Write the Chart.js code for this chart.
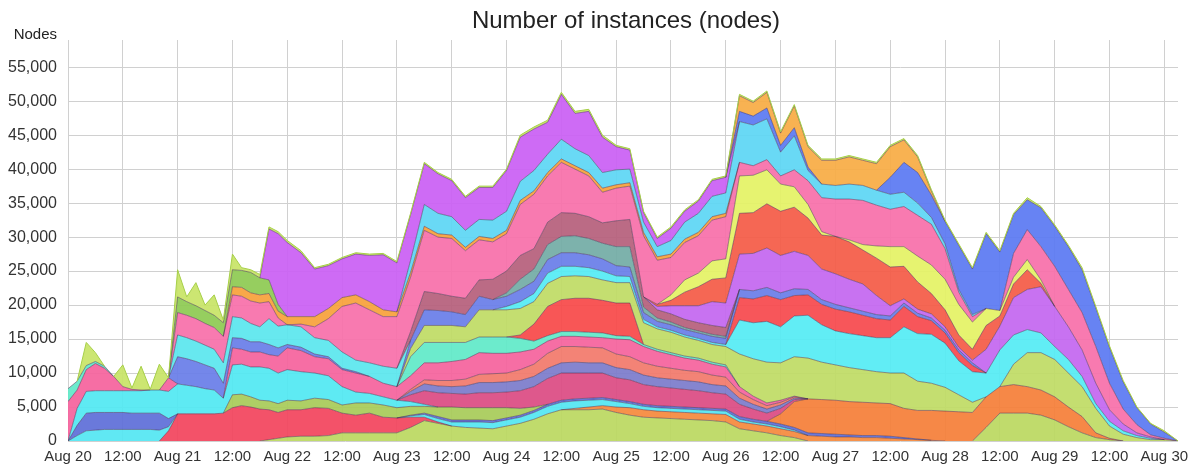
<!DOCTYPE html>
<html>
<head>
<meta charset="utf-8">
<script src="https://cdn.jsdelivr.net/npm/chart.js@4.4.1/dist/chart.umd.min.js"></script>
<style>
  html, body { margin: 0; padding: 0; background: #fff; }
  #wrap { width: 1199px; height: 467px; position: relative; }
</style>
</head>
<body>
<div id="wrap"><canvas id="grafico"></canvas></div>
<script>
// horas desde Aug 20 00:00
const hours = [0,2,4,6,8,10,12,14,16,18,
  20,22,24,26,28,30,32,34,36,38,
  40,42,44,46,48,51,54,57,60,63,
  66,69,72,75,78,81,84,87,90,93,
  96,99,102,105,108,111,114,117,120,123,
  126,129,132,135,138,141,144,147,150,153,
  156,159,162,165,168,171,174,177,180,183,
  186,189,192,195,198,201,204,207,210,213,
  216,219,222,225,228,231,234,237,240,243]

const tickLabels = ['Aug 20','12:00','Aug 21','12:00','Aug 22','12:00','Aug 23','12:00','Aug 24','12:00',
  'Aug 25','12:00','Aug 26','12:00','Aug 27','12:00','Aug 28','12:00','Aug 29','12:00','Aug 30']
const yTicks = [0,5000,10000,15000,20000,25000,30000,35000,40000,45000,50000,55000]

// nodos por serie (apiladas de abajo hacia arriba)
const lime1 = [0,0,0,0,0,0,0,0,0,0, 0,0,0,0,0,0,0,0,0,0, 0,0,200,400,600,700,700,800,1200,1200,
  1200,1200,1200,2000,3000,2600,2200,2000,1900,1800, 2200,2600,3200,4000,4600,4600,4600,4700,4200,3800,
  3500,3400,3300,3200,3100,3000,2800,1800,1500,1200, 800,500,0,0,0,0,0,0,0,0,
  0,0,0,0,0,2000,4100,4100,4100,3800, 3100,2100,1200,500,200,0,0,0,0,0]
const orange1 = [0,0,0,0,0,0,0,0,0,0, 0,0,0,0,0,0,0,0,0,0, 0,0,0,0,0,0,0,0,0,0,
  0,0,0,0,0,0,0,0,0,0, 0,0,0,0,0,200,400,500,800,1100,
  1100,1000,1000,1000,1000,1000,1100,1000,1000,1000, 1000,900,800,700,600,600,500,500,400,300,
  200,100,0,0,0,0,0,0,0,0, 0,0,0,0,0,0,0,0,0,0]
const red1 = [0,0,0,0,0,0,0,0,0,0, 0,1500,4000,4000,4000,4000,4000,4100,4900,5200,
  5000,4700,4400,3800,4000,3900,4200,4000,2900,2600, 2900,2300,2200,1500,500,200,0,0,0,0,
  0,0,0,0,0,0,0,0,0,0, 0,0,0,0,0,0,0,0,0,0, 0,0,0,0,0,0,0,0,0,0,
  0,0,0,0,0,0,0,0,0,0, 0,0,0,0,0,0,0,0,0,0]
const cyanLow = [0,800,1500,1600,1700,1700,1700,1700,1700,1700, 1600,600,0,0,0,0,0,0,0,0,
  0,0,0,0,0,0,0,0,0,0, 0,0,0,200,400,500,600,800,900,900,
  900,900,1000,1100,1100,1100,1000,900,800,600, 500,500,500,500,500,500,500,400,300,300,
  300,200,0,0,0,0,0,0,0,0, 0,0,0,0,0,0,0,0,0,0, 0,0,0,0,0,0,0,0,0,0]
const blueLow = [0,1500,2600,2600,2500,2500,2500,2400,2400,2400, 2500,1200,0,0,0,0,0,0,0,0,
  0,0,0,0,0,0,0,0,0,0, 0,0,0,100,200,300,300,300,300,300,
  300,300,300,300,300,300,300,300,300,300, 300,300,300,300,300,300,300,400,400,400,
  400,400,400,400,400,300,300,300,300,200, 100,0,0,0,0,0,0,0,0,0, 0,0,0,0,0,0,0,0,0,0]
const orangeBig = [0,0,0,0,0,0,0,0,0,0, 0,0,0,0,0,0,0,0,0,0, 0,0,0,0,0,0,0,0,0,0,
  0,0,0,0,0,0,0,0,0,0, 0,0,0,0,0,0,0,0,0,0, 0,0,0,0,0,0,0,0,0,0,
  1500,3800,5000,5000,5000,4900,4900,4800,4800,4300, 4200,4400,4400,4300,4200,4500,3900,4200,3900,3700,
  3400,2900,2400,700,200,0,0,0,0,0]
const olive = [0,0,0,0,0,0,0,0,0,0, 0,0,0,0,0,0,0,0,1900,1700,
  1500,1300,1300,1300,1400,1300,1400,1300,1200,1800, 1500,1800,1500,1300,1000,1400,1900,1800,1800,1900,
  1500,1000,500,0,0,0,0,0,0,0, 0,0,0,0,0,0,0,0,0,0, 0,0,0,0,0,0,0,0,0,0,
  0,0,0,0,0,0,0,0,0,0, 0,0,0,0,0,0,0,0,0,0]
const cyanMid = [0,2500,3200,3200,3200,3200,3200,3300,3300,3400, 3400,4000,4400,4200,4000,3700,3500,2200,4400,4400,
  4400,4900,4800,4500,4500,4300,3700,3500,2700,1600, 1400,1200,1100,700,300,0,0,0,0,0,
  0,0,0,0,0,0,0,0,0,0, 0,0,0,0,0,0,0,0,0,0, 0,0,0,0,0,0,0,0,0,0,
  0,0,0,0,0,0,0,0,0,0, 0,0,0,0,0,0,0,0,0,0]
const magenta = [0,0,0,0,0,0,0,0,0,0, 0,0,0,0,0,0,0,0,0,0, 0,0,0,0,0,0,0,0,0,0,
  0,0,0,1000,2000,2100,2000,2000,2200,2200, 2300,2600,3000,3800,4000,3800,3700,3600,3200,3200,
  2900,2800,2700,2600,2500,2300,2200,1800,1500,1200, 800,300,0,0,0,0,0,0,0,0,
  0,0,0,0,0,0,0,0,0,0, 0,0,0,0,0,0,0,0,0,0]
const slate = [0,0,0,0,0,0,0,0,0,0, 0,0,0,0,0,0,0,0,0,0, 0,0,0,0,0,0,0,0,0,0,
  0,0,0,500,1000,1000,1000,1200,1500,1500, 1500,1500,1500,1500,1500,1600,1500,1500,1500,1500,
  1400,1300,1300,1300,1300,1200,1200,900,700,600, 500,200,0,0,0,0,0,0,0,0,
  0,0,0,0,0,0,0,0,0,0, 0,0,0,0,0,0,0,0,0,0]
const coral = [0,0,0,0,0,0,0,0,0,0, 0,0,0,0,0,0,0,0,0,0, 0,0,0,0,0,0,0,0,0,0,
  0,0,0,300,600,800,900,1000,1200,1300, 1300,1600,1800,2200,2400,2300,2300,2200,2000,1900,
  1800,1700,1600,1500,1500,1400,1300,900,700,500, 400,200,0,0,0,0,0,0,0,0,
  0,0,0,0,0,0,0,0,0,0, 0,0,0,0,0,0,0,0,0,0]
const hotpink = [5800,2700,3200,4000,3300,2100,600,200,100,0, 0,2000,0,0,0,0,0,0,2500,2200,
  2200,2200,2000,2500,3200,3100,2400,2500,2500,2800, 2500,2000,2000,2000,2500,2600,2800,2900,3200,3000,
  2900,2600,2200,1800,1500,1500,1500,1500,2200,2500, 2400,2200,2000,1800,1700,1600,1500,800,500,400,
  300,100,0,0,0,0,0,0,0,0, 0,0,0,0,0,0,0,0,0,0, 0,0,0,0,0,0,0,0,0,0]
const mint = [1900,1300,600,300,300,0,0,0,0,0, 0,0,0,0,0,0,0,0,0,0, 0,0,0,0,0,0,0,0,0,0,
  0,0,0,2800,3000,3000,2800,2500,2300,2400, 2400,2000,1200,800,700,700,700,700,500,500,
  300,300,300,300,300,300,300,0,0,0, 0,0,0,0,0,0,0,0,0,0,
  0,0,0,0,0,0,0,0,0,0, 0,0,0,0,0,0,0,0,0,0]
const redBlock = [0,0,0,0,0,0,0,0,0,0, 0,0,0,0,0,0,0,0,0,0, 0,0,0,0,0,0,0,0,0,0,
  0,0,0,0,0,0,0,0,0,0, 0,500,2500,4300,4700,4900,5000,4800,4800,4900,
  0,0,0,0,0,0,0,0,0,0, 0,0,0,0,0,0,0,0,0,0, 0,0,0,0,0,0,0,0,0,0, 0,0,0,0,0,0,0,0,0,0]
const limeMid = [0,0,0,0,0,0,0,0,0,0, 0,0,0,0,0,0,0,0,0,0, 0,0,0,0,0,0,0,0,0,0,
  0,0,0,1200,2500,2500,2500,2300,4000,4000, 4000,3900,3300,3400,3400,3300,3200,3000,3000,3000,
  3200,3000,3000,2800,2600,2600,2700,4800,5500,6000, 5500,5800,6000,5500,5200,5000,4800,4600,4500,5200,
  4300,4000,3500,2500,1500,0,0,3000,5000,5500, 5500,5000,4400,3600,1800,1000,500,200,200,0]
const cyanBig = [0,0,0,0,0,0,0,0,0,0, 0,0,0,0,0,0,0,0,0,0, 0,0,0,0,0,0,0,0,0,0,
  0,0,0,0,0,0,0,0,0,0, 500,1000,1200,1500,1500,1400,1300,1300,1000,900,
  500,300,300,300,300,300,300,5000,5300,6000, 5300,6000,6300,5500,5000,5000,5000,5000,5200,6800,
  7000,7200,6500,5000,4500,3500,5400,4300,3400,2900, 1900,2000,1500,700,700,500,300,200,0,0]
const redBig = [0,0,0,0,0,0,0,0,0,0, 0,0,0,0,0,0,0,0,0,0, 0,0,0,0,0,0,0,0,0,0,
  0,0,0,0,0,0,0,0,0,0, 0,0,0,0,0,0,0,0,0,0, 0,0,0,0,0,0,0,3300,3500,3800,
  4000,3000,3000,3000,3200,3200,3000,2800,2600,3000, 2500,2000,1500,1200,900,0,0,0,0,0,
  0,0,0,0,0,0,0,0,0,0]
const blueMid = [0,0,0,0,0,0,0,0,0,0, 0,0,4000,3900,3700,3500,3200,2200,1500,1600,
  1500,1500,1500,1200,500,500,400,300,200,200, 0,0,0,1200,2300,2200,2000,1800,2000,1500,
  1500,1800,1800,2000,2000,2000,1900,1800,1500,1400, 1000,800,800,800,800,900,900,1200,1200,1200,
  1000,1000,800,700,700,600,600,600,600,500, 500,400,400,400,400,0,0,0,0,0, 0,0,0,0,0,0,0,0,0,0]
const cyan2 = [0,0,0,0,0,0,0,0,0,0, 0,0,3200,3100,3000,2900,2800,3000,3100,3000,
  2700,2200,3800,3200,2900,3000,2400,2400,2400,1700, 2000,2500,2700,0,0,0,0,0,0,0,
  0,0,0,0,0,0,0,0,0,0, 0,0,0,0,0,0,0,0,0,0, 0,0,0,0,0,0,0,0,0,0,
  0,0,0,0,0,0,0,0,0,0, 0,0,0,0,0,0,0,0,0,0]
const teal = [0,0,0,0,0,0,0,0,0,0, 0,0,0,0,0,0,0,0,0,0, 0,0,0,0,0,0,0,0,0,0,
  0,0,0,0,0,0,0,0,0,0, 500,1500,1800,2200,2400,2500,2400,2300,2800,3000,
  800,500,400,300,300,300,300,0,0,0, 0,0,0,0,0,0,0,0,0,0,
  0,0,0,0,0,0,0,0,0,0, 0,0,0,0,0,0,0,0,0,0]
const mauve = [0,0,0,0,0,0,0,0,0,0, 0,0,0,0,0,0,0,0,0,0, 0,0,0,0,0,0,0,0,0,0,
  0,0,0,1300,2700,2500,2300,2400,2400,3000, 3200,3500,3000,3300,3500,3300,3200,3000,3800,4000,
  1500,1200,1200,1200,1200,1300,1300,0,0,0, 0,0,0,0,0,0,0,0,0,0,
  0,0,0,0,0,0,0,0,0,0, 0,0,0,0,0,0,0,0,0,0]
const purpleMid = [0,0,0,0,0,0,0,0,0,0, 0,0,0,0,0,0,0,0,0,0, 0,0,0,0,0,0,0,0,0,0,
  0,0,0,0,0,0,0,0,0,0, 0,0,0,0,0,0,0,0,0,0,
  0,500,1200,2000,2500,3500,3600,5200,5500,5800, 5500,5500,5000,4500,4500,4200,4000,2800,1500,600,
  600,600,500,400,400,3500,3500,5500,5900,6800, 5900,4800,3900,3000,1700,1000,400,200,0,0]
const redUpper = [0,0,0,0,0,0,0,0,0,0, 0,0,0,0,0,0,0,0,0,0, 0,0,0,0,0,0,0,0,0,0,
  0,0,0,0,0,0,0,0,0,0, 0,0,0,0,0,0,0,0,0,0,
  0,300,800,2000,2800,3300,3700,6000,6000,6500, 6500,6500,5500,5000,5500,5500,5000,5500,5700,4800,
  4000,3000,2500,1800,1600,3500,1500,2000,2900,500, 0,0,0,0,0,0,0,0,0,0]
const yellow = [0,0,0,0,0,0,0,0,0,0, 0,0,0,0,0,0,0,0,0,0, 0,0,0,0,0,0,0,0,0,0,
  0,0,0,0,0,0,0,0,0,0, 0,0,0,0,0,0,0,0,0,0,
  0,0,800,1800,2000,2700,2800,5500,5500,5000, 4000,3000,2000,500,0,300,800,1800,3000,2900,
  3800,4200,4500,4500,4000,2500,800,1000,1500,500, 0,0,0,0,0,0,0,0,0,0]
const pinkBig = [0,0,0,0,0,0,0,0,0,0, 0,0,3300,3300,3300,3200,3200,3900,3200,3200,
  3300,3500,2500,1200,0,400,1600,3200,6700,8400, 7800,7300,7600,8000,9000,8300,8500,7000,5900,5500,
  5500,7500,8000,6800,7400,6500,6000,4500,4800,4900, 9000,6500,5500,5500,5500,6000,6200,2000,1400,1500,
  1200,2500,3500,5000,5500,6000,6500,6000,5500,5900, 6000,6000,4500,1800,800,0,0,3500,4400,4900,
  5900,5500,5500,5400,3900,2200,1200,300,200,0]
const orangeLine = [0,0,0,0,0,0,0,0,0,0, 0,0,0,0,0,0,0,0,1200,1300,
  1200,1200,1200,1000,1200,1100,1500,1500,1300,1200, 1200,1000,700,700,600,500,500,500,500,500,
  500,600,500,500,500,500,500,600,500,500, 500,500,500,500,500,500,500,0,0,0,
  0,0,0,0,0,0,0,0,0,0, 0,0,0,0,0,0,0,0,0,0, 0,0,0,0,0,0,0,0,0,0]
const cyanTop = [0,0,0,0,0,0,0,0,0,0, 0,0,0,0,0,0,0,0,0,0, 0,0,0,0,0,0,0,0,0,0,
  0,0,0,1800,3200,3000,2700,2500,2500,2700, 2800,2800,3000,2700,2900,2500,2500,2300,2200,2000,
  1500,1500,2000,2500,2800,3000,3000,6000,6000,6000, 3500,5000,1500,2000,2000,2200,2200,2200,2200,2100,
  1800,1000,700,400,300,0,0,0,0,0, 0,0,0,0,0,0,0,0,0,0]
const green = [0,0,0,0,0,0,0,0,0,0, 0,0,2300,2000,1900,1900,1800,2000,2500,2500,
  3000,2500,2000,1000,0,0,0,0,0,0, 0,0,0,0,0,0,0,0,0,0,
  0,0,0,0,0,0,0,0,0,0, 0,0,0,0,0,0,0,0,0,0, 0,0,0,0,0,0,0,0,0,0,
  0,0,0,0,0,0,0,0,0,0, 0,0,0,0,0,0,0,0,0,0]
const purpleTop = [0,0,0,0,0,0,0,0,0,0, 0,0,0,0,0,0,0,0,0,0,
  0,0,7500,10400,10900,9400,7000,6300,5700,6000, 6800,8100,7200,6700,6000,5800,5300,4800,4700,4800,
  6000,6500,6100,4700,6600,5200,6500,5200,3400,2800, 1400,1200,1800,1600,1800,2300,2300,0,0,0,
  0,0,0,0,0,0,0,0,0,0, 0,0,0,0,0,0,0,0,0,0, 0,0,0,0,0,0,0,0,0,0]
const blueTop = [0,0,0,0,0,0,0,0,0,0, 0,0,0,0,0,0,0,0,0,0, 0,0,0,0,0,0,0,0,0,0,
  0,0,0,0,0,0,0,0,0,0, 0,0,0,0,0,0,0,0,0,0, 0,0,0,0,0,0,0,1500,1300,1600,
  1000,1200,500,0,0,0,0,0,2500,4400, 4500,3300,3300,6500,6700,11000,8600,5700,4400,5700,
  5900,6300,6300,5700,5300,4000,2500,1600,900,0]
const orangeTop = [0,0,0,0,0,0,0,0,0,0, 0,0,0,0,0,0,0,0,0,0, 0,0,0,0,0,0,0,0,0,0,
  0,0,0,0,0,0,0,0,0,0, 0,0,0,0,0,0,0,0,0,0, 0,0,0,0,0,0,0,2300,2000,2300,
  1800,3200,3000,3500,3700,4000,3700,3900,4500,3300, 2300,600,0,0,0,0,0,0,0,0,
  0,0,0,0,0,0,0,0,0,0]
const spike = [0,0,3400,1300,0,0,3200,200,3500,100, 3800,0,4000,700,3400,800,3000,400,2300,400,
  400,500,300,300,300,300,200,200,200,200, 200,200,200,200,200,200,200,200,200,200,
  200,300,300,300,300,300,300,300,200,200, 200,200,200,200,200,200,200,200,200,200,
  200,200,200,200,200,200,200,200,200,200, 200,200,200,200,200,200,200,200,300,200,
  200,200,300,200,200,200,100,100,200,0]

// orden de apilado y colores
const series = [
  [lime1, '#bcd862'], [orange1, '#f58a3e'], [red1, '#f2465e'], [cyanLow, '#55e6f2'],
  [blueLow, '#5f6fd8'], [orangeBig, '#f5803a'], [olive, '#a8cc5a'], [cyanMid, '#52e8f2'],
  [magenta, '#dc4c84'], [slate, '#7c7ccc'], [coral, '#f27a6c'], [hotpink, '#f5649e'],
  [mint, '#62eac8'], [redBlock, '#f84a4a'], [limeMid, '#c0dc66'], [cyanBig, '#56ecf4'],
  [redBig, '#f64a4e'], [blueMid, '#6a7ee8'], [cyan2, '#5ce6ee'], [teal, '#74aca6'],
  [mauve, '#b6607c'], [purpleMid, '#c468f0'], [redUpper, '#f45c48'], [yellow, '#e4f266'],
  [pinkBig, '#f870aa'], [orangeLine, '#f7a23c'], [cyanTop, '#5ed6f4'], [green, '#8fcb54'],
  [purpleTop, '#ca60f4'], [blueTop, '#5c7af2'], [orangeTop, '#f8ac46'], [spike, '#c8e468']
]

const datasets = series.map(([vals, color], i) => ({
  data: vals,
  backgroundColor: color + 'ee',
  borderWidth: 0,
  pointRadius: 0,
  tension: 0,
  fill: i === 0 ? 'origin' : '-1'
}))

// bordes de cada banda (solo donde la serie tiene valor)
const bordes = {
  id: 'bordes',
  afterDatasetsDraw(chart) {
    const ctx = chart.ctx
    const area = chart.chartArea
    ctx.save()
    ctx.beginPath()
    ctx.rect(area.left, area.top - 5, area.right - area.left, area.bottom - area.top + 5)
    ctx.clip()
    ctx.lineWidth = 1
    chart.data.datasets.forEach((ds, i) => {
      const pts = chart.getDatasetMeta(i).data
      const vals = ds.data
      ctx.strokeStyle = i === chart.data.datasets.length - 1 ? '#a6cf48' : 'rgba(70,45,80,0.5)'
      ctx.beginPath()
      for (let k = 0; k < pts.length - 1; k++) {
        if (vals[k] === 0 && vals[k + 1] === 0) continue
        ctx.moveTo(pts[k].x, pts[k].y)
        ctx.lineTo(pts[k + 1].x, pts[k + 1].y)
      }
      ctx.stroke()
    })
    ctx.restore()
  }
}

const textos = {
  id: 'textos',
  afterDraw(chart) {
    const ctx = chart.ctx
    ctx.save()
    ctx.fillStyle = '#222'
    ctx.font = '24px "Liberation Sans", Arial, sans-serif'
    ctx.textAlign = 'center'
    ctx.textBaseline = 'middle'
    ctx.fillText('Number of instances (nodes)', 626, 21)
    ctx.font = '15px "Liberation Sans", Arial, sans-serif'
    ctx.textAlign = 'right'
    ctx.fillText('Nodes', 57, 35)
    ctx.restore()
  }
}

const fuenteX = { family: '"Liberation Sans", Arial, sans-serif', size: 15 }
const fuenteY = { family: '"Liberation Sans", Arial, sans-serif', size: 16 }

new Chart(document.querySelector('#grafico'), {
  type: 'line',
  data: { labels: hours, datasets },
  options: {
    responsive: true,
    maintainAspectRatio: false,
    animation: false,
    layout: { padding: { top: 40, right: 21, left: 0, bottom: 0 } },
    plugins: { legend: { display: false }, tooltip: { enabled: false }, title: { display: false } },
    scales: {
      x: {
        type: 'linear', min: 0, max: 243,
        grid: { color: '#d0d0d0', drawTicks: false },
        border: { display: false },
        ticks: {
          stepSize: 12, autoSkip: false, maxRotation: 0, includeBounds: false,
          padding: 7, color: '#333', font: fuenteX,
          callback: v => tickLabels[v / 12]
        },
        afterFit: s => { s.height = 26 }
      },
      y: {
        stacked: true, min: 0, max: 59000,
        grid: { color: '#d0d0d0', drawTicks: false },
        border: { display: false },
        ticks: {
          autoSkip: false, padding: 11, color: '#333', font: fuenteY,
          callback: v => v.toLocaleString('en-US')
        },
        afterBuildTicks: s => { s.ticks = yTicks.map(v => ({ value: v })) },
        afterFit: s => { s.width = 68 }
      }
    }
  },
  plugins: [bordes, textos]
})
</script>
</body>
</html>
